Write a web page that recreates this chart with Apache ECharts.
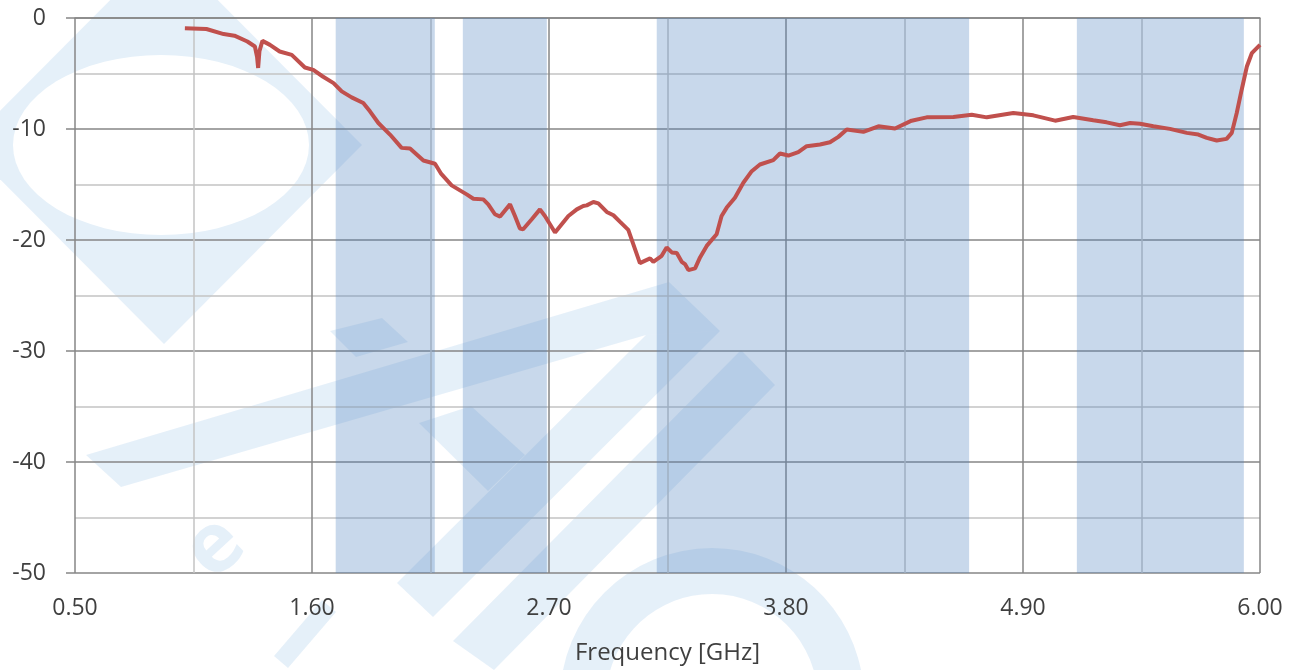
<!DOCTYPE html>
<html>
<head>
<meta charset="utf-8">
<script src="https://cdn.jsdelivr.net/npm/echarts@6/dist/echarts.min.js"></script>
<style>
html,body{margin:0;padding:0;background:#fff;}
#chart{width:1295px;height:670px;}
</style>
</head>
<body>
<div id="chart"></div>
<script>
// Frequency (GHz)
const freq = [1.01,1.11,1.19,1.24,1.30,1.335,1.345,1.35,1.356,1.37,1.405,1.45,1.506,1.567,1.606,1.65,1.70,1.738,1.784,1.838,1.869,1.908,1.962,2.016,2.055,2.117,2.171,2.20,2.248,2.318,2.349,2.395,2.418,2.449,2.473,2.519,2.542,2.565,2.58,2.62,2.658,2.681,2.728,2.79,2.829,2.859,2.875,2.906,2.929,2.968,2.999,3.03,3.068,3.122,3.169,3.184,3.223,3.246,3.27,3.293,3.316,3.331,3.347,3.378,3.401,3.432,3.478,3.501,3.525,3.563,3.602,3.641,3.679,3.741,3.772,3.811,3.857,3.896,3.958,4.004,4.043,4.082,4.159,4.229,4.306,4.383,4.453,4.577,4.662,4.732,4.855,4.948,5.049,5.133,5.226,5.288,5.35,5.397,5.443,5.505,5.582,5.66,5.714,5.753,5.799,5.845,5.869,5.892,5.915,5.939,5.962,6.0];
// Reflection (dB)
const s11 = [-0.93,-0.99,-1.45,-1.59,-2.12,-2.57,-3.5,-4.5,-3.0,-2.06,-2.42,-3.02,-3.32,-4.46,-4.67,-5.27,-5.87,-6.61,-7.15,-7.66,-8.41,-9.46,-10.5,-11.7,-11.76,-12.84,-13.13,-14.05,-15.08,-15.89,-16.28,-16.34,-16.79,-17.68,-17.89,-16.79,-17.84,-18.97,-19.03,-18.13,-17.24,-17.84,-19.33,-17.84,-17.24,-16.94,-16.88,-16.58,-16.7,-17.47,-17.77,-18.37,-19.09,-22.08,-21.66,-21.96,-21.42,-20.67,-21.12,-21.18,-21.96,-22.17,-22.71,-22.56,-21.57,-20.53,-19.48,-17.84,-17.08,-16.19,-14.84,-13.8,-13.2,-12.81,-12.21,-12.39,-12.09,-11.55,-11.4,-11.19,-10.71,-10.05,-10.26,-9.76,-9.96,-9.25,-8.95,-8.92,-8.71,-8.95,-8.56,-8.77,-9.25,-8.92,-9.22,-9.4,-9.66,-9.46,-9.52,-9.75,-9.99,-10.35,-10.5,-10.8,-11.04,-10.89,-10.35,-8.56,-6.46,-4.37,-3.17,-2.42];
// Highlighted frequency bands (GHz)
const bandStart = [1.71, 2.30, 3.20, 5.15];
const bandEnd   = [2.17, 2.69, 4.65, 5.925];

const xMin = 0.5, xMax = 6.0, xStep = 1.1;
const yMin = -50, yMax = 0, yStep = 10;

const wm = 'rgba(0,112,192,0.10)';
const chart = echarts.init(document.getElementById('chart'), null, {renderer: 'canvas'});
const textColor = '#3f3f3f';
const font = '"Open Sans", "Liberation Sans", sans-serif';

chart.setOption({
  backgroundColor: '#ffffff',
  animation: false,
  grid: {left: 75, right: 35, top: 18, bottom: 95, containLabel: false},
  graphic: [
    {type: 'polygon', z: -10, silent: true, shape: {points: [[164,-54],[362,145],[164,344],[-34,145]]}, style: {fill: wm}},
    {type: 'circle', z: -9, silent: true, x: 161, y: 145, scaleX: 148 / 90, scaleY: 1, shape: {cx: 0, cy: 0, r: 90}, style: {fill: '#ffffff'}},
    {type: 'polygon', z: -10, silent: true, shape: {points: [[86,455],[669,282],[720,331],[646,335],[121,487]]}, style: {fill: wm}},
    {type: 'polygon', z: -10, silent: true, shape: {points: [[646,335],[720,331],[433,617],[397,583]]}, style: {fill: wm}},
    {type: 'polygon', z: -10, silent: true, shape: {points: [[741,350],[775,385],[494,670],[453,641]]}, style: {fill: wm}},
    {type: 'polygon', z: -10, silent: true, shape: {points: [[419,423],[471,406],[525,455],[488,491]]}, style: {fill: wm}},
    {type: 'polygon', z: -10, silent: true, shape: {points: [[330,331],[382,318],[408,342],[356,357]]}, style: {fill: wm}},
    {type: 'polygon', z: -10, silent: true, shape: {points: [[322,600],[336,612],[288,668],[274,656]]}, style: {fill: wm}},
    {type: 'sector', z: -10, silent: true, shape: {cx: 712, cy: 700, r0: 106, r: 152, startAngle: Math.PI, endAngle: Math.PI * 1.97, clockwise: true}, style: {fill: wm}},
    {type: 'text', z: -10, silent: true, x: 215, y: 548, rotation: 0.75, style: {text: 'e', fill: wm, font: 'bold 84px "Open Sans", sans-serif', align: 'center', verticalAlign: 'middle'}}
  ],
  xAxis: {
    type: 'value', min: xMin, max: xMax, interval: xStep,
    name: 'Frequency [GHz]', nameLocation: 'middle', nameGap: 68,
    nameTextStyle: {fontSize: 24, color: textColor, fontFamily: font},
    axisLine: {show: true, lineStyle: {color: '#868686', width: 1.5}},
    axisTick: {show: false},
    axisLabel: {formatter: v => v.toFixed(2), fontSize: 23, color: textColor, fontFamily: font, margin: 24},
    splitLine: {show: true, lineStyle: {color: '#868686', width: 1.5}},
    minorTick: {show: false, splitNumber: 2},
    minorSplitLine: {show: true, lineStyle: {color: '#c4c4c4', width: 1.5}}
  },
  yAxis: {
    type: 'value', min: yMin, max: yMax, interval: yStep,
    axisLine: {show: false},
    axisTick: {show: true, length: 9, inside: false, lineStyle: {color: '#868686', width: 1.5}},
    axisLabel: {fontSize: 23, color: textColor, fontFamily: font, margin: 29},
    splitLine: {show: true, lineStyle: {color: '#868686', width: 1.5}},
    minorTick: {show: false, splitNumber: 2},
    minorSplitLine: {show: true, lineStyle: {color: '#c4c4c4', width: 1.5}}
  },
  series: [{
    type: 'line',
    data: freq.map((f, i) => [f, s11[i]]),
    showSymbol: false,
    smooth: false,
    lineStyle: {color: '#c0504d', width: 4},
    z: 5,
    markArea: {
      silent: true,
      itemStyle: {color: 'rgba(79,129,189,0.31)'},
      data: bandStart.map((s, i) => [{xAxis: s}, {xAxis: bandEnd[i]}])
    }
  }]
});
</script>
</body>
</html>
